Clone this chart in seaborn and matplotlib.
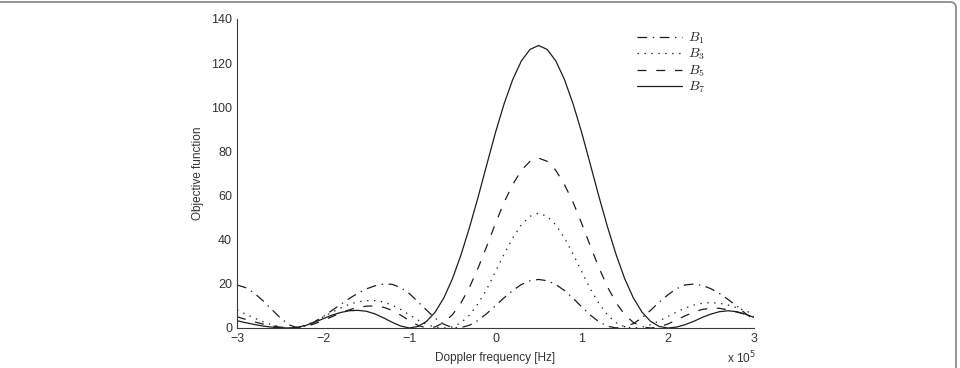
import numpy as np
import pandas as pd
import matplotlib
matplotlib.use("Agg")
import matplotlib.pyplot as plt
import seaborn as sns
from matplotlib.patches import FancyBboxPatch
from matplotlib.transforms import IdentityTransform

# Doppler frequency grid (x 10^5 Hz)
freq = np.round(np.linspace(-3.0, 3.0, 61), 1)

# Objective function values
b1 = [19.5, 18.3, 15.8, 12.4, 8.5, 4.7, 1.5, 0.1, 1.0, 2.8,
      5.2, 7.9, 10.6, 13.3, 15.7, 17.7, 19.1, 19.9, 19.8, 18.3,
      15.6, 11.9, 8.1, 4.4, 1.7, 0.2, 0.2, 1.3, 3.5, 6.6,
      10.1, 13.7, 17.0, 19.7, 21.4, 22.0, 21.4, 19.7, 17.0, 13.5,
      9.6, 5.9, 2.8, 0.8, 0.05, 0.6, 2.0, 4.6, 8.0, 11.7,
      15.0, 17.8, 19.5, 19.9, 19.3, 17.8, 15.6, 12.9, 10.0, 6.6,
      3.8]
b3 = [8.2, 6.3, 4.5, 2.9, 1.5, 0.5, 0.0, 0.4, 1.4, 3.0,
      5.0, 7.1, 9.0, 10.7, 11.8, 12.4, 12.4, 11.8, 10.4, 8.4,
      6.0, 3.6, 1.6, 0.4, 0.0, 0.5, 2.4, 5.9, 11.1, 17.7,
      25.6, 33.5, 40.8, 46.7, 50.6, 52.0, 50.6, 46.7, 40.8, 33.5,
      25.6, 17.7, 11.1, 5.9, 2.4, 0.5, 0.0, 0.4, 1.5, 3.2,
      5.2, 7.2, 9.0, 10.4, 11.2, 11.5, 11.2, 10.4, 9.2, 7.8,
      6.3]
b5 = [5.1, 3.9, 2.8, 1.8, 1.0, 0.4, 0.0, 0.2, 0.8, 1.9,
      3.4, 5.1, 6.8, 8.2, 9.3, 9.9, 10.0, 9.4, 8.0, 5.8,
      3.4, 1.2, 0.0, 0.5, 2.5, 6.0, 11.4, 18.6, 27.4, 37.2,
      47.4, 57.0, 65.0, 71.4, 75.5, 77.0, 75.5, 71.4, 65.0, 57.0,
      47.4, 37.2, 27.4, 18.6, 11.4, 6.0, 2.5, 0.5, 0.0, 0.5,
      1.8, 3.6, 5.5, 7.2, 8.4, 9.0, 8.9, 8.2, 7.2, 6.2,
      5.3]
b7 = [3.3, 2.4, 1.6, 0.9, 0.4, 0.1, 0.0, 0.3, 1.2, 2.6,
      4.2, 5.8, 7.0, 7.8, 8.0, 7.6, 6.4, 4.6, 2.6, 0.9,
      0.0, 0.7, 3.0, 7.2, 13.6, 22.3, 33.2, 45.8, 59.6, 74.2,
      88.6, 101.6, 112.6, 121.0, 126.2, 128.0, 126.2, 121.0, 112.6, 101.6,
      88.6, 74.2, 59.6, 45.8, 33.2, 22.3, 13.6, 7.2, 3.0, 0.7,
      0.0, 0.4, 1.5, 3.0, 4.8, 6.3, 7.4, 7.8, 7.4, 6.3,
      4.8]

labels = ['$B_1$', '$B_3$', '$B_5$', '$B_7$']
series = [b1, b3, b5, b7]

sns.set_style("white")
plt.rcParams['font.family'] = ['Liberation Sans', 'DejaVu Sans']
plt.rcParams['mathtext.fontset'] = 'cm'
plt.rcParams['lines.scale_dashes'] = False

styles = {
    '$B_1$': (0, (7, 4, 1, 4)),
    '$B_3$': (0, (1, 4)),
    '$B_5$': (0, (6.5, 7)),
    '$B_7$': '-',
}
line_col = '#1e1e1e'
axis_col = '#3a3a3a'
text_col = '#333333'

fig = plt.figure(figsize=(9.6, 3.68), dpi=100)
ax = fig.add_axes([0.2469, 0.1087, 0.5385, 0.8397])

for lab, vals in zip(labels, series):
    df = pd.DataFrame({'freq': freq, 'obj': vals})
    sns.lineplot(data=df, x='freq', y='obj', ax=ax, color=line_col,
                 linewidth=0.9, linestyle=styles[lab], label=lab)

ax.set_xlim(-3, 3)
ax.set_ylim(0, 140)
ax.set_xticks(range(-3, 4))
ax.set_yticks(range(0, 141, 20))
ax.tick_params(direction='in', length=4, width=0.7, colors=axis_col,
               labelsize=9, labelcolor=text_col, pad=3.5)
for side in ['top', 'right']:
    ax.spines[side].set_visible(False)
for side in ['left', 'bottom']:
    ax.spines[side].set_color(axis_col)
    ax.spines[side].set_linewidth(0.8)

ax.set_xlabel('Doppler frequency [Hz]', fontsize=8.5, color=text_col, labelpad=5)
ax.set_ylabel('Objective function', fontsize=8.5, color=text_col, labelpad=5)
ax.text(1.003, -0.124, 'x 10$^5$', transform=ax.transAxes, ha='right',
        va='bottom', fontsize=8.5, color=text_col,
        math_fontfamily='dejavusans')

ax.legend(loc='upper left', bbox_to_anchor=(0.762, 0.98), frameon=False,
          fontsize=10, handlelength=3.3, handletextpad=0.4, labelspacing=0.07,
          borderaxespad=0)

# rounded frame of the figure panel (only top and right edges are visible)
frame = FancyBboxPatch((-30, -30), 986, 396,
                       boxstyle='round,pad=0,rounding_size=6',
                       transform=IdentityTransform(), fill=False,
                       edgecolor='#8c8c8c', linewidth=1.3)
fig.patches.append(frame)

fig.savefig('out.png', dpi=100)
